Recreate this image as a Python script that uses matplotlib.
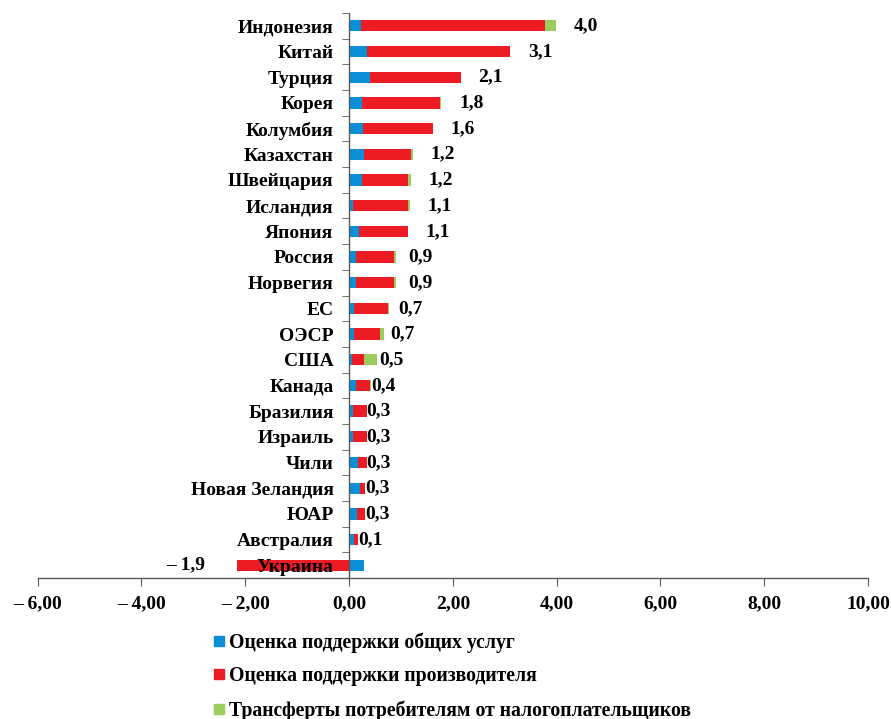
import numpy as np
import matplotlib
matplotlib.use('Agg')
import matplotlib.pyplot as plt
from matplotlib.lines import Line2D

plt.rcParams['font.family'] = ['Liberation Serif', 'DejaVu Serif']
plt.rcParams['font.weight'] = 'bold'

countries = ['Индонезия', 'Китай', 'Турция', 'Корея', 'Колумбия', 'Казахстан',
             'Швейцария', 'Исландия', 'Япония', 'Россия', 'Норвегия', 'ЕС', 'ОЭСР',
             'США', 'Канада', 'Бразилия', 'Израиль', 'Чили', 'Новая Зеландия',
             'ЮАР', 'Австралия', 'Украина']
# general services support estimate (blue)
gsse = [0.23, 0.35, 0.41, 0.25, 0.27, 0.29, 0.25, 0.07, 0.19, 0.13, 0.13,
        0.10, 0.10, 0.06, 0.13, 0.07, 0.07, 0.17, 0.22, 0.16, 0.10, 0.28]
# producer support estimate (red)
pse = [3.55, 2.75, 1.74, 1.50, 1.34, 0.90, 0.89, 1.07, 0.94, 0.74, 0.74,
       0.66, 0.50, 0.23, 0.27, 0.27, 0.27, 0.17, 0.09, 0.15, 0.07, -2.15]
# transfers to consumers from taxpayers (green)
tcte = [0.21, 0.00, 0.00, 0.03, 0.00, 0.04, 0.05, 0.03, 0.00, 0.03, 0.03,
        0.01, 0.07, 0.25, 0.03, 0.00, 0.00, 0.00, 0.00, 0.00, 0.00, 0.00]
value_labels = ['4,0', '3,1', '2,1', '1,8', '1,6', '1,2', '1,2', '1,1', '1,1',
                '0,9', '0,9', '0,7', '0,7', '0,5', '0,4', '0,3', '0,3', '0,3',
                '0,3', '0,3', '0,1', '– 1,9']
series_names = ['Оценка поддержки общих услуг', 'Оценка поддержки производителя',
                'Трансферты потребителям от налогоплательщиков']
xticks = [-6, -4, -2, 0, 2, 4, 6, 8, 10]

c_blue, c_red, c_green = '#0A8FD6', '#ED1C24', '#9CCB5E'
FS = 14

b = np.array(gsse)
r = np.array(pse)
g = np.array(tcte)
y = np.arange(len(countries))

fig = plt.figure(figsize=(8.91, 7.19), dpi=100)
ax = fig.add_axes([0.0422, 0.196, 0.932, 0.786])
ax.spines['left'].set_position(('data', 0))
ax.spines['top'].set_visible(False)
ax.spines['right'].set_visible(False)

h = 0.44
ax.barh(y, b, height=h, color=c_blue, zorder=1)
red_left = np.where(r > 0, b, 0)
ax.barh(y, r, left=red_left, height=h, color=c_red, zorder=1)
ax.barh(y, g, left=b + np.clip(r, 0, None), height=h, color=c_green, zorder=1)

for i in range(len(countries)):
    end = b[i] + max(r[i], 0) + g[i]
    if r[i] < 0:
        ax.annotate(value_labels[i], (r[i], y[i]), xytext=(-32, 0),
                    textcoords='offset pixels', ha='right', va='center',
                    fontsize=FS, fontweight='bold')
    else:
        gap = np.clip(22 * (end - 0.45) / 0.8, 0, 18)
        ax.annotate(value_labels[i], (end, y[i]), xytext=(gap, 0),
                    textcoords='offset pixels', ha='left', va='center',
                    fontsize=FS, fontweight='bold')

ax.set_xlim(-6, 10)
ax.set_ylim(len(countries) - 0.5, -0.5)
ax.set_xticks(xticks)
ax.set_xticklabels([('– %.2f' % abs(v)).replace('.', ',') if v < 0 else ('%.2f' % v).replace('.', ',')
                    for v in xticks])
ax.set_yticks(y)
ax.set_yticklabels(countries)
ax.set_yticks(np.arange(len(countries) + 1) - 0.5, minor=True)

for s in ('left', 'bottom'):
    ax.spines[s].set_color('#595959')
    ax.spines[s].set_linewidth(1.0)
ax.tick_params(axis='y', which='major', length=0, pad=11, labelsize=FS)
ax.tick_params(axis='y', which='minor', length=5, color='#595959', direction='out')
ax.tick_params(axis='x', length=6, color='#595959', direction='out', pad=6, labelsize=FS)
for t in ax.get_xticklabels() + ax.get_yticklabels():
    t.set_fontweight('bold')

handles = [Line2D([], [], marker='s', ls='', color=c, markersize=7) for c in (c_blue, c_red, c_green)]
fig.legend(handles, series_names, loc='upper left', bbox_to_anchor=(0.239, 0.121),
           frameon=False, handlelength=0.6, handletextpad=0.2,
           labelspacing=0.7, borderaxespad=0, borderpad=0,
           prop={'weight': 'bold', 'size': 14.2})

fig.savefig('out.png', dpi=100)
